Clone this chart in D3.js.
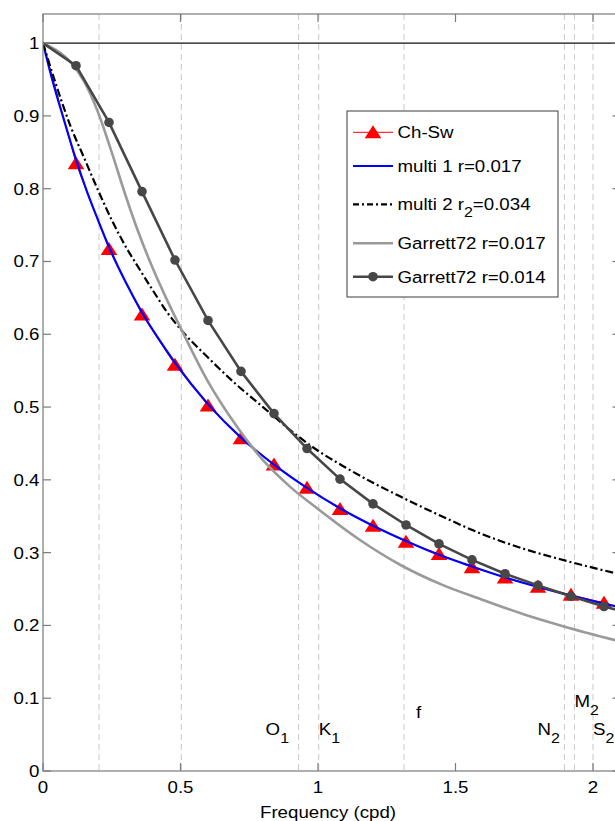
<!DOCTYPE html>
<html>
<head>
<meta charset="utf-8">
<script src="https://cdn.jsdelivr.net/npm/d3@7"></script>
<style>
  html, body { margin: 0; padding: 0; background: #fff; }
  svg { display: block; }
  text { font-family: "Liberation Sans", Arial, Helvetica, sans-serif; fill: #000; }
</style>
</head>
<body>
<svg id="chart" width="615" height="821"></svg>
<script>
// ---- Data: admittance amplitude vs frequency (cpd) ----
const chswFreq = [0, 0.12, 0.24, 0.36, 0.48, 0.60, 0.72, 0.84, 0.96, 1.08, 1.20, 1.32, 1.44, 1.56, 1.68, 1.80, 1.92, 2.04];
const chswGain = [1, 0.835, 0.717, 0.627, 0.558, 0.502, 0.457, 0.421, 0.389, 0.360, 0.337, 0.315, 0.298, 0.280, 0.266, 0.253, 0.242, 0.231];

const multi1Freq = [0, 0.03, 0.06, 0.09, 0.12, 0.16, 0.20, 0.24, 0.30, 0.36, 0.42, 0.48, 0.60, 0.72, 0.84, 0.96, 1.08, 1.20, 1.32, 1.44, 1.56, 1.68, 1.80, 1.92, 2.04, 2.10];
const multi1Gain = [1, 0.955, 0.915, 0.877, 0.840, 0.796, 0.757, 0.720, 0.672, 0.630, 0.594, 0.561, 0.504, 0.458, 0.421, 0.389, 0.361, 0.337, 0.316, 0.297, 0.281, 0.266, 0.253, 0.241, 0.230, 0.225];

const multi2Freq = [0, 0.05, 0.10, 0.15, 0.20, 0.25, 0.30, 0.35, 0.40, 0.45, 0.50, 0.60, 0.70, 0.80, 0.90, 1.00, 1.10, 1.20, 1.30, 1.45, 1.60, 1.75, 1.90, 2.10];
const multi2Gain = [1, 0.940, 0.886, 0.842, 0.798, 0.757, 0.721, 0.690, 0.660, 0.631, 0.607, 0.568, 0.532, 0.500, 0.468, 0.440, 0.417, 0.396, 0.377, 0.350, 0.325, 0.305, 0.289, 0.270];

const garrett17Freq = [0, 0.05, 0.10, 0.15, 0.20, 0.25, 0.30, 0.35, 0.40, 0.45, 0.50, 0.60, 0.70, 0.80, 0.90, 1.00, 1.15, 1.30, 1.45, 1.60, 1.75, 1.90, 2.10];
const garrett17Gain = [1, 0.990, 0.974, 0.947, 0.905, 0.850, 0.791, 0.737, 0.690, 0.648, 0.609, 0.535, 0.476, 0.427, 0.390, 0.360, 0.318, 0.283, 0.256, 0.235, 0.215, 0.198, 0.178];

const garrett14Freq = [0, 0.12, 0.24, 0.36, 0.48, 0.60, 0.72, 0.84, 0.96, 1.08, 1.20, 1.32, 1.44, 1.56, 1.68, 1.80, 1.92, 2.04, 2.16];
const garrett14Gain = [1, 0.969, 0.891, 0.796, 0.702, 0.619, 0.549, 0.491, 0.443, 0.401, 0.367, 0.338, 0.312, 0.290, 0.271, 0.255, 0.240, 0.226, 0.214];

// Reference frequencies (cpd) marked by dashed verticals
const tideFreq = [0.2036, 0.503, 0.9295, 1.0027, 1.3127, 1.8960, 1.9323, 2.0000];
// Constituent labels
const tideName = ["O", "K", "f", "N", "M", "S"];
const tideSub  = ["1", "1", "", "2", "2", "2"];
const tideLabelFreq = [0.9295, 1.0027, 1.3127, 1.8960, 1.9323, 2.0000];

const xTickValues = [0, 0.5, 1, 1.5, 2];
const xTickLabels = ["0", "0.5", "1", "1.5", "2"];
const yTickValues = [0, 0.1, 0.2, 0.3, 0.4, 0.5, 0.6, 0.7, 0.8, 0.9, 1];
const yTickLabels = ["0", "0.1", "0.2", "0.3", "0.4", "0.5", "0.6", "0.7", "0.8", "0.9", "1"];

const legendNames = ["Ch-Sw", "multi 1 r=0.017", "multi 2 r|2|=0.034", "Garrett72 r=0.017", "Garrett72 r=0.014"];

// ---- Layout ----
const W = 615, H = 821;
const plotLeft = 43, plotTop = 14, plotBottom = 771;
const pxPerUnit = 275;
const xMax = 2.1;
const plotRight = plotLeft + xMax * pxPerUnit;
const SX = 1.1;           // horizontal stretch of the lettering
const FS = 17;            // base font size
const SUB = 14.5;         // subscript font size

const svg = d3.select("#chart");
svg.append("rect").attr("width", W).attr("height", H).attr("fill", "#fff");

const x = d3.scaleLinear().domain([0, xMax]).range([plotLeft, plotRight]);
const y = d3.scaleLinear().domain([0, 1.04]).range([plotBottom, plotTop]);

const COL = {
  red: "#ff0000", blue: "#0000ff", black: "#000",
  light: "#9a9a9a", dark: "#474747", grid: "#c8c8c8", frame: "#7a7a7a"
};

function txt(parent, px, py, anchor, size) {
  return parent.append("text")
    .attr("transform", `translate(${px},${py}) scale(${SX},1)`)
    .attr("text-anchor", anchor)
    .style("font-size", size + "px");
}

svg.append("defs").append("clipPath").attr("id", "plotClip")
  .append("rect").attr("x", plotLeft).attr("y", plotTop)
  .attr("width", plotRight - plotLeft).attr("height", plotBottom - plotTop);

// Dashed reference verticals
svg.append("g").selectAll("line").data(tideFreq).join("line")
  .attr("x1", d => x(d)).attr("x2", d => x(d))
  .attr("y1", plotTop).attr("y2", plotBottom)
  .attr("stroke", COL.grid).attr("stroke-width", 1)
  .attr("stroke-dasharray", "6,4");

// Unit gain line
svg.append("line")
  .attr("x1", plotLeft).attr("x2", plotRight)
  .attr("y1", y(1)).attr("y2", y(1))
  .attr("stroke", "#111").attr("stroke-width", 1.3);

// Constituent labels
const labelDx = [-33, 0, 12, -27, 0, 0];
const labelY  = [735, 735, 718, 735, 707, 735];
tideName.forEach((n, i) => {
  const t = txt(svg, x(tideLabelFreq[i]) + labelDx[i], labelY[i], "start", FS);
  t.append("tspan").text(n);
  if (tideSub[i]) t.append("tspan").attr("dy", 8).style("font-size", SUB + "px").text(tideSub[i]);
});

// ---- Curves ----
const plot = svg.append("g").attr("clip-path", "url(#plotClip)");
const zip = (xs, ys) => xs.map((v, i) => [v, ys[i]]);
const smooth = d3.line().x(d => x(d[0])).y(d => y(d[1])).curve(d3.curveMonotoneX);
const straight = d3.line().x(d => x(d[0])).y(d => y(d[1]));

const tri = "M0,-7 L8.3,6 L-8.3,6 Z";

// Ch-Sw
const chsw = zip(chswFreq, chswGain);
plot.append("path").attr("d", straight(chsw))
  .attr("fill", "none").attr("stroke", COL.red).attr("stroke-width", 1);
plot.append("g").selectAll("path").data(chsw.filter(d => d[0] > 0)).join("path")
  .attr("d", tri).attr("transform", d => `translate(${x(d[0])},${y(d[1])})`)
  .attr("fill", COL.red);

// multi 1
plot.append("path").attr("d", smooth(zip(multi1Freq, multi1Gain)))
  .attr("fill", "none").attr("stroke", COL.blue).attr("stroke-width", 2.2);

// multi 2
plot.append("path").attr("d", smooth(zip(multi2Freq, multi2Gain)))
  .attr("fill", "none").attr("stroke", COL.black).attr("stroke-width", 2.2)
  .attr("stroke-dasharray", "8,3,2,3");

// Garrett72 r=0.017
plot.append("path").attr("d", smooth(zip(garrett17Freq, garrett17Gain)))
  .attr("fill", "none").attr("stroke", COL.light).attr("stroke-width", 2.6);

// Garrett72 r=0.014
const g14 = zip(garrett14Freq, garrett14Gain);
plot.append("path").attr("d", straight(g14))
  .attr("fill", "none").attr("stroke", COL.dark).attr("stroke-width", 2.6);
plot.append("g").selectAll("circle").data(g14.filter(d => d[0] > 0)).join("circle")
  .attr("cx", d => x(d[0])).attr("cy", d => y(d[1])).attr("r", 4.8)
  .attr("fill", COL.dark);

// ---- Frame and ticks ----
const frame = svg.append("g");
frame.append("rect").attr("x", plotLeft).attr("y", plotTop)
  .attr("width", plotRight - plotLeft).attr("height", plotBottom - plotTop)
  .attr("fill", "none").attr("stroke", COL.frame).attr("stroke-width", 1.2);

const TL = 8;
xTickValues.forEach(v => {
  frame.append("line").attr("x1", x(v)).attr("x2", x(v)).attr("y1", plotBottom).attr("y2", plotBottom - TL)
    .attr("stroke", COL.frame).attr("stroke-width", 1.2);
  frame.append("line").attr("x1", x(v)).attr("x2", x(v)).attr("y1", plotTop).attr("y2", plotTop + TL)
    .attr("stroke", COL.frame).attr("stroke-width", 1.2);
});
yTickValues.forEach(v => {
  frame.append("line").attr("x1", plotLeft).attr("x2", plotLeft + TL).attr("y1", y(v)).attr("y2", y(v))
    .attr("stroke", COL.frame).attr("stroke-width", 1.2);
  frame.append("line").attr("x1", plotRight).attr("x2", plotRight - TL).attr("y1", y(v)).attr("y2", y(v))
    .attr("stroke", COL.frame).attr("stroke-width", 1.2);
});

xTickValues.forEach((v, i) => txt(svg, x(v), 793, "middle", FS).text(xTickLabels[i]));
yTickValues.forEach((v, i) => txt(svg, 39.5, y(v) + 6, "end", FS).text(yTickLabels[i]));

txt(svg, 328, 818, "middle", FS).text("Frequency (cpd)");

// ---- Legend ----
const lg = svg.append("g");
lg.append("rect").attr("x", 347).attr("y", 111).attr("width", 211).attr("height", 186)
  .attr("fill", "#fff").attr("stroke", "#3c3c3c").attr("stroke-width", 1);
const rowY = [132.3, 166, 204.3, 243.3, 276.7];
const l0 = 353, l1 = 393, lm = 373, tx = 397.5;

lg.append("line").attr("x1", l0).attr("x2", l1).attr("y1", rowY[0]).attr("y2", rowY[0])
  .attr("stroke", COL.red).attr("stroke-width", 1);
lg.append("path").attr("d", tri).attr("transform", `translate(${lm},${rowY[0]})`).attr("fill", COL.red);
lg.append("line").attr("x1", l0).attr("x2", l1).attr("y1", rowY[1]).attr("y2", rowY[1])
  .attr("stroke", COL.blue).attr("stroke-width", 2.2);
lg.append("line").attr("x1", l0).attr("x2", l1).attr("y1", rowY[2]).attr("y2", rowY[2])
  .attr("stroke", COL.black).attr("stroke-width", 2.2).attr("stroke-dasharray", "6,3,2,3");
lg.append("line").attr("x1", l0).attr("x2", l1).attr("y1", rowY[3]).attr("y2", rowY[3])
  .attr("stroke", COL.light).attr("stroke-width", 2.6);
lg.append("line").attr("x1", l0).attr("x2", l1).attr("y1", rowY[4]).attr("y2", rowY[4])
  .attr("stroke", COL.dark).attr("stroke-width", 2.6);
lg.append("circle").attr("cx", lm).attr("cy", rowY[4]).attr("r", 4.8).attr("fill", COL.dark);

legendNames.forEach((name, i) => {
  const t = txt(lg, tx, rowY[i] + 6, "start", FS);
  const parts = name.split("|");
  if (parts.length === 3) {
    t.append("tspan").text(parts[0]);
    t.append("tspan").attr("dy", 7).style("font-size", SUB + "px").text(parts[1]);
    t.append("tspan").attr("dy", -7).text(parts[2]);
  } else {
    t.text(name);
  }
});
</script>
</body>
</html>
